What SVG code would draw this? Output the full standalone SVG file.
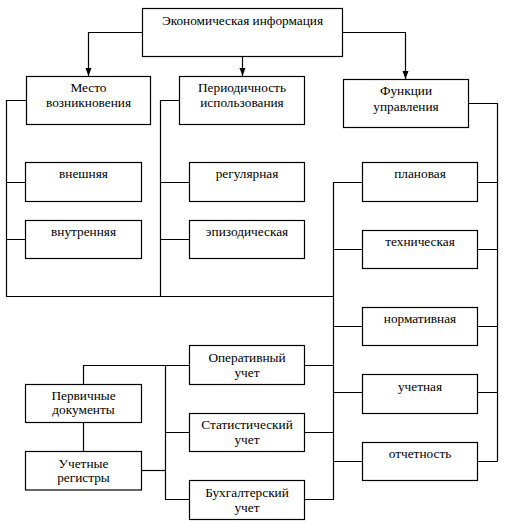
<svg xmlns="http://www.w3.org/2000/svg" width="508" height="523" viewBox="0 0 508 523">
<defs>
<style>
rect{fill:#fff;stroke:#000;stroke-width:1.2}
.c path{fill:none;stroke:#000;stroke-width:1.2}
text{font-family:'Liberation Serif','DejaVu Serif',serif;font-size:13.3px;fill:#000;text-anchor:middle}
</style>
<marker id="ar" viewBox="0 0 8 8" refX="8" refY="4" markerWidth="8" markerHeight="8" markerUnits="userSpaceOnUse" orient="auto"><path d="M0,1 L8,4 L0,7 Z" fill="#000"/></marker>
</defs>
<rect x="0" y="0" width="508" height="523" style="stroke:none"/>
<g class="c" id="connectors">
<path d="M142.5,32.5 H88.5 V76" marker-end="url(#ar)"/>
<path d="M242.5,56.5 V76" marker-end="url(#ar)"/>
<path d="M342.5,32.5 H405.5 V79" marker-end="url(#ar)"/>
<path d="M26.5,100.5 H6.5 V296.5 H333.5"/>
<path d="M6.5,182.5 H25.5 M6.5,239.5 H25.5"/>
<path d="M179.5,100.5 H160.5 V296.5"/>
<path d="M160.5,182.5 H189.5 M160.5,239.5 H189.5"/>
<path d="M468.5,103.5 H497.5 V461.5"/>
<path d="M477.5,182.5 H497.5 M477.5,249.5 H497.5 M477.5,326.5 H497.5 M477.5,392.5 H497.5 M477.5,461.5 H497.5"/>
<path d="M362.5,182.5 H333.5 V499.5 H304.5"/>
<path d="M333.5,249.5 H362.5 M333.5,326.5 H362.5 M333.5,392.5 H362.5 M333.5,461.5 H362.5"/>
<path d="M304.5,365.5 H333.5 M304.5,432.5 H333.5"/>
<path d="M189.5,365.5 H83.5 V384.5"/>
<path d="M165.5,365.5 V499.5 H189.5 M165.5,432.5 H189.5"/>
<path d="M83.5,422.5 V451.5"/>
<path d="M141.5,470.5 H165.5"/>
</g>
<g font-family="Liberation Serif, DejaVu Serif, serif">
<g id="n-econ"><rect x="142.5" y="8.5" width="200" height="48"/><text x="242.5" y="25">Экономическая информация</text></g>
<g id="n-mesto"><rect x="26.5" y="76.5" width="124" height="48"/><text x="88.5" y="92">Место</text><text x="88.5" y="107">возникновения</text></g>
<g id="n-period"><rect x="179.5" y="76.5" width="125" height="48"/><text x="242" y="92">Периодичность</text><text x="242" y="107">использования</text></g>
<g id="n-funk"><rect x="343.5" y="79.5" width="125" height="48"/><text x="406" y="95">Функции</text><text x="406" y="110.5">управления</text></g>
<g id="n-vnesh"><rect x="25.5" y="162.5" width="116" height="39"/><text x="83.5" y="178">внешняя</text></g>
<g id="n-vnutr"><rect x="25.5" y="220.5" width="116" height="38"/><text x="83.5" y="236">внутренняя</text></g>
<g id="n-regul"><rect x="189.5" y="162.5" width="115" height="39"/><text x="247" y="178">регулярная</text></g>
<g id="n-epizod"><rect x="189.5" y="220.5" width="115" height="38"/><text x="247" y="236">эпизодическая</text></g>
<g id="n-plan"><rect x="362.5" y="162.5" width="115" height="39"/><text x="420" y="178">плановая</text></g>
<g id="n-tekhn"><rect x="362.5" y="230.5" width="115" height="38"/><text x="420" y="246">техническая</text></g>
<g id="n-norm"><rect x="362.5" y="307.5" width="115" height="38"/><text x="420" y="323">нормативная</text></g>
<g id="n-uchet"><rect x="362.5" y="374.5" width="115" height="39"/><text x="420" y="390.5">учетная</text></g>
<g id="n-otchet"><rect x="362.5" y="442.5" width="115" height="38"/><text x="420" y="458">отчетность</text></g>
<g id="n-operat"><rect x="189.5" y="345.5" width="115" height="39"/><text x="247" y="361.5">Оперативный</text><text x="247" y="376.5">учет</text></g>
<g id="n-stat"><rect x="189.5" y="413.5" width="115" height="38"/><text x="247" y="429">Статистический</text><text x="247" y="443.5">учет</text></g>
<g id="n-bukh"><rect x="189.5" y="480.5" width="115" height="39"/><text x="247" y="496.5">Бухгалтерский</text><text x="247" y="511.5">учет</text></g>
<g id="n-perv"><rect x="25.5" y="384.5" width="116" height="38"/><text x="83.5" y="400">Первичные</text><text x="83.5" y="414">документы</text></g>
<g id="n-reg"><rect x="25.5" y="451.5" width="116" height="38.5"/><text x="83.5" y="467.5">Учетные</text><text x="83.5" y="481.5">регистры</text></g>
</g>
</svg>
